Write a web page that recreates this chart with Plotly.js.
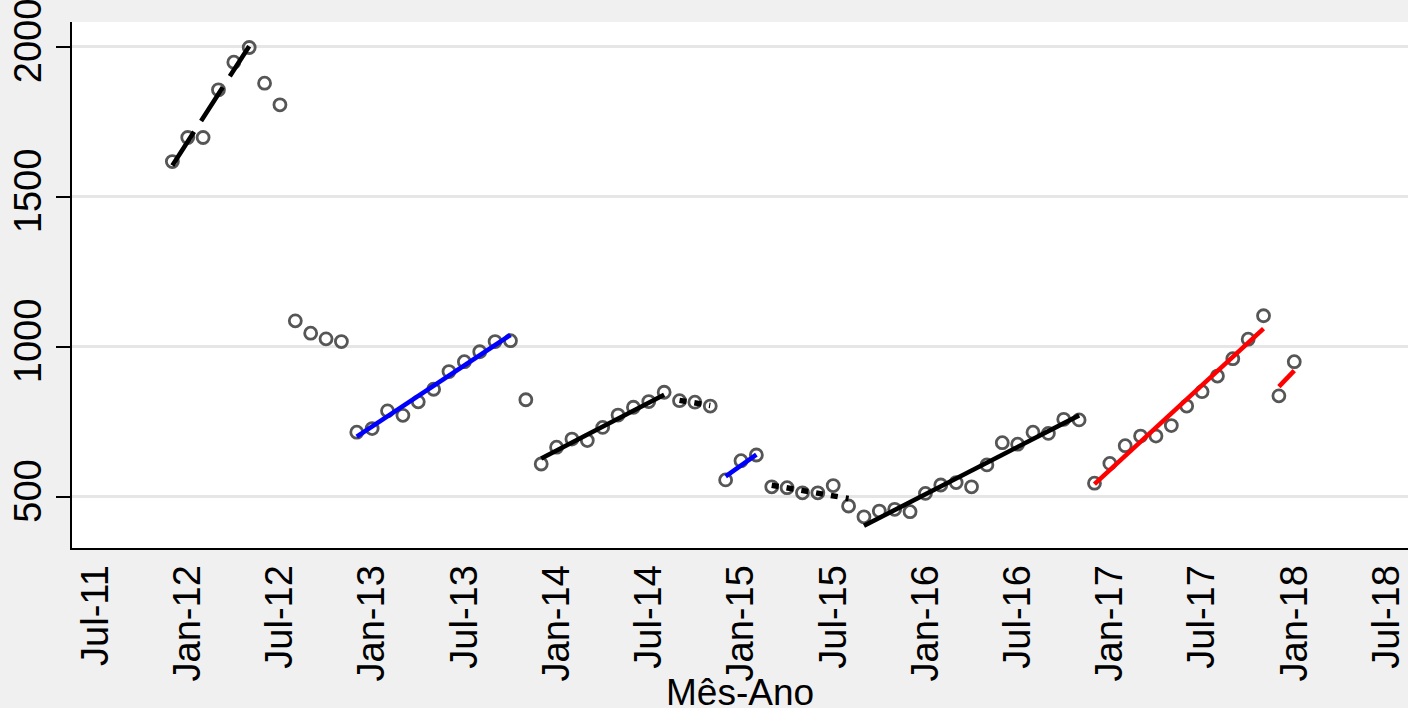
<!DOCTYPE html>
<html>
<head>
<meta charset="utf-8">
<script src="https://cdn.plot.ly/plotly-3.0.1.min.js"></script>
<style>html,body{margin:0;padding:0;background:#f0f0f0;}#chart{width:1408px;height:708px;}</style>
</head>
<body>
<div id="chart"></div>
<script>
// ---- data ----
const months = [
  "2011-12","2012-01","2012-02","2012-03","2012-04","2012-05","2012-06","2012-07","2012-08","2012-09","2012-10","2012-11",
  "2012-12","2013-01","2013-02","2013-03","2013-04","2013-05","2013-06","2013-07","2013-08","2013-09","2013-10","2013-11",
  "2013-12","2014-01","2014-02","2014-03","2014-04","2014-05","2014-06","2014-07","2014-08","2014-09","2014-10","2014-11",
  "2014-12","2015-01","2015-02","2015-03","2015-04","2015-05","2015-06","2015-07","2015-08","2015-09","2015-10","2015-11",
  "2015-12","2016-01","2016-02","2016-03","2016-04","2016-05","2016-06","2016-07","2016-08","2016-09","2016-10","2016-11",
  "2016-12","2017-01","2017-02","2017-03","2017-04","2017-05","2017-06","2017-07","2017-08","2017-09","2017-10","2017-11",
  "2017-12","2018-01"
];
const values = [
  1617,1697,1697,1856,1948,1997,1878,1806,1086,1045,1026,1017,
  715,727,786,771,816,858,917,950,983,1017,1020,823,
  609,665,692,687,731,772,798,817,848,820,815,802,
  556,620,639,533,530,513,513,537,469,433,452,458,
  450,511,539,547,533,606,680,675,715,711,758,756,
  545,611,670,702,702,737,802,850,902,960,1025,1103,
  836,950
];
// fitted segments (start/end month and fitted value at each end)
const fitStart    = ["2011-12","2012-12","2013-12","2014-09","2014-12","2015-03","2015-09","2016-12","2017-12"];
const fitEnd      = ["2012-05","2013-10","2014-08","2014-11","2015-02","2015-08","2016-11","2017-11","2018-01"];
const fitStartVal = [1604, 700, 627, 821, 568, 538, 403, 542, 867];
const fitEndVal   = [2001,1039, 840, 804, 640, 494, 771,1060, 920];
const tickMonths = ["2011-07","2012-01","2012-07","2013-01","2013-07","2014-01","2014-07","2015-01","2015-07","2016-01","2016-07","2017-01","2017-07","2018-01","2018-07"];
const tickLabels = ["Jul-11","Jan-12","Jul-12","Jan-13","Jul-13","Jan-14","Jul-14","Jan-15","Jul-15","Jan-16","Jul-16","Jan-17","Jul-17","Jan-18","Jul-18"];
const yTicks = [500,1000,1500,2000];
const xTitle = "Mês-Ano";

// ---- styles ----
const fitStyles = [
  {color:"#000000", dash:"40px,13px", width:4.6},
  {color:"#0000ff", dash:"solid", width:4.6},
  {color:"#000000", dash:"solid", width:4.6},
  {color:"#000000", dash:"7px,8px", width:5.5},
  {color:"#0000ff", dash:"solid", width:4.6},
  {color:"#000000", dash:"7px,8px", width:5.5},
  {color:"#000000", dash:"solid", width:4.6},
  {color:"#ff0000", dash:"solid", width:4.6},
  {color:"#ff0000", dash:"solid", width:4.6}
];

function mi(s){ const p = s.split("-").map(Number); return (p[0]-2011)*12 + (p[1]-1); }

const FONT = "Liberation Sans, Arial, Helvetica, sans-serif";
const traces = [];
traces.push({
  type:"scatter", mode:"markers",
  x: months.map(mi), y: values,
  marker:{symbol:"circle-open", size:12, color:"#565656", line:{width:2.8, color:"#565656"}},
  hoverinfo:"skip"
});
for (let i=0;i<fitStart.length;i++){
  traces.push({
    type:"scatter", mode:"lines",
    x:[mi(fitStart[i]), mi(fitEnd[i])], y:[fitStartVal[i], fitEndVal[i]],
    line:{color:fitStyles[i].color, width:fitStyles[i].width, dash:fitStyles[i].dash},
    hoverinfo:"skip"
  });
}

const layout = {
  width:1408, height:708,
  margin:{l:72, r:0, t:22, b:160},
  paper_bgcolor:"#f0f0f0", plot_bgcolor:"#ffffff",
  showlegend:false,
  font:{family:FONT, color:"#000000", size:38},
  xaxis:{
    range:[4.47, 91.4],
    tickmode:"array", tickvals:tickMonths.map(mi), ticktext:tickLabels,
    tickangle:-90, tickfont:{family:FONT, size:38, color:"#000"},
    showgrid:false, zeroline:false,
    showline:true, linecolor:"#000", linewidth:2,
    ticks:"", ticklabelstandoff:0,
    automargin:false
  },
  yaxis:{
    range:[329, 2082],
    tickmode:"array", tickvals:yTicks, ticktext:yTicks.map(String),
    tickangle:-90, tickfont:{family:FONT, size:38, color:"#000"},
    ticklabeloverflow:"allow",
    showgrid:true, gridcolor:"#e6e6e6", gridwidth:3, zeroline:false,
    showline:true, linecolor:"#000", linewidth:2,
    ticks:"outside", ticklen:14, tickwidth:2, tickcolor:"#000",
    automargin:false
  },
  annotations:[{
    text:xTitle, xref:"paper", yref:"paper", x:0.5, y:-0.2738,
    xanchor:"center", yanchor:"middle", showarrow:false,
    font:{family:FONT, size:37, color:"#000"}
  }]
};
Plotly.newPlot("chart", traces, layout, {staticPlot:true, displayModeBar:false});
</script>
</body>
</html>
